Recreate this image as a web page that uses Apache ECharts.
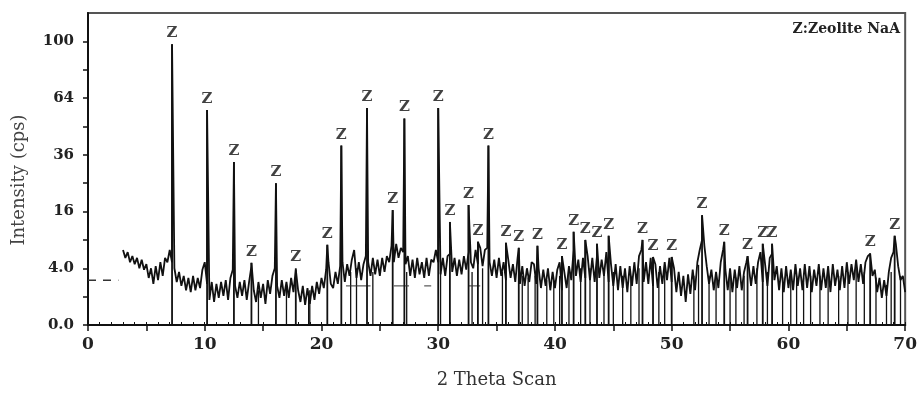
<!DOCTYPE html>
<html><head><meta charset="utf-8">
<script src="https://cdn.jsdelivr.net/npm/echarts@6/dist/echarts.min.js"></script>
<style>html,body{margin:0;padding:0;background:#fff}#c{width:920px;height:394px}</style>
</head><body><div id="c"></div>
<script>
// measured background profile (cps), sampled every 0.2 deg 2-theta from 3.0 (noisy band)
const bgStart = 3.0, bgStep = 0.2;
const bgIntensity = [
 7.0,5.6,6.6,4.9,5.9,4.6,5.6,4.0,5.3,3.8,
 4.6,2.75,4.0,2.1,4.3,2.5,4.9,3.0,5.6,4.9,
 7.0,4.9,4.0,2.3,3.5,1.9,3.0,1.5,2.75,1.35,
 3.0,1.5,2.75,1.7,3.8,4.9,2.1,0.78,2.3,0.66,
 2.1,0.91,2.3,1.05,2.5,0.78,2.75,3.8,1.9,0.91,
 2.3,1.05,2.5,0.78,2.3,4.3,1.5,0.66,2.3,0.91,
 2.1,0.55,2.5,1.2,3.0,4.0,1.9,0.91,2.5,1.05,
 2.3,0.91,2.75,1.35,3.8,1.5,0.66,1.9,0.5,1.7,
 0.55,1.9,0.78,2.3,1.2,2.75,1.7,3.8,4.9,2.1,
 1.7,3.5,2.1,4.3,4.9,2.3,4.6,3.0,5.3,7.0,
 2.75,4.9,2.5,4.6,5.9,4.9,3.0,5.6,3.2,5.3,
 3.0,5.6,3.5,5.9,4.9,7.8,4.9,8.2,5.6,7.4,
 6.6,4.6,5.9,3.0,5.3,2.75,5.6,3.2,4.9,2.75,
 5.6,3.0,5.3,4.9,7.0,4.9,3.2,5.6,3.0,5.9,
 6.3,3.5,5.6,3.0,5.3,3.2,5.9,3.8,6.6,4.9,
 4.0,7.0,4.6,7.4,4.3,7.0,7.4,4.9,3.0,5.3,
 2.75,5.6,3.0,4.9,2.5,5.3,2.75,4.6,2.3,5.6,
 2.1,4.3,1.9,4.0,2.3,4.9,4.6,2.1,4.0,1.7,
 3.8,1.9,4.0,1.5,3.5,1.7,3.8,4.9,1.5,3.5,
 1.7,4.3,2.5,7.0,3.0,5.3,2.3,5.6,2.75,5.9,
 2.5,5.6,2.3,5.9,2.75,5.3,3.0,6.6,2.3,4.6,
 1.9,4.6,1.5,4.3,1.7,4.0,1.35,4.3,1.9,4.9,
 2.1,5.9,7.0,2.3,4.9,2.1,5.6,1.9,4.6,1.7,
 4.3,2.1,4.9,2.5,5.6,2.3,4.0,1.35,3.5,1.05,
 3.0,0.66,3.2,1.2,3.8,1.5,4.9,7.0,9.0,7.8,
 4.3,2.1,3.8,1.5,3.5,1.7,4.9,7.0,3.8,1.5,
 4.0,1.35,3.8,1.7,4.3,1.5,3.5,4.9,5.9,1.9,
 4.3,2.1,4.9,6.6,2.3,4.6,1.9,5.6,6.3,2.5,
 4.3,1.5,4.0,1.35,4.3,1.7,3.8,1.5,4.6,1.9,
 4.0,1.5,4.6,1.7,4.3,1.35,3.8,1.9,4.6,1.5,
 4.0,1.7,4.3,1.35,4.6,1.9,3.8,1.5,4.3,1.7,
 4.9,2.1,4.6,2.5,5.3,2.3,4.6,2.1,4.9,5.9,
 6.3,3.0,3.8,1.35,2.75,0.91,2.5,1.05,3.5,5.6,
 6.6,8.2,4.3,2.5,3.0,1.35
];
// Zeolite NaA reflections (labelled "Z")
const peakPos = [7.2,10.2,12.5,14.0,16.1,17.8,20.5,21.7,23.9,26.1,27.1,30.0,31.0,32.6,33.4,34.3,35.8,36.9,38.5,40.6,41.6,42.6,43.6,44.6,47.5,48.4,50.0,52.6,54.5,56.5,57.8,58.6,67.0,69.1];
const peakInt = [98,57.5,33,4.8,25,4.0,8.0,40,58.5,16.4,53,58.5,13.2,17.9,8.6,40,8.4,7.4,7.8,5.9,10.8,9.0,8.2,9.9,9.0,5.75,5.75,15.0,8.6,5.9,8.2,8.2,6.4,9.9];
// unlabelled reference lines
const stickPos = [14.6,17.0,18.9,19.0,22.5,23.0,24.4,27.3,30.2,32.9,33.8,35.5,37.2,37.7,38.3,39.3,39.9,40.4,41.2,42.2,43.0,44.2,45.0,45.8,46.5,47.2,48.9,49.4,51.9,52.3,53.2,53.8,55.0,55.5,56.2,57.3,58.2,59.5,60.2,60.7,61.3,61.9,62.7,63.4,64.3,65.1,65.8,66.5,67.5,68.4,68.8,69.6];
const stickInt = [1.5,1.7,1.2,1.5,3.5,4.0,3.5,3.5,3.5,3.5,4.0,3.5,3.0,2.8,3.0,2.5,2.5,3.0,3.5,4.0,4.0,4.0,3.5,3.0,3.0,4.0,3.5,4.0,3.0,4.5,3.0,3.0,3.0,2.8,3.0,4.0,3.5,2.8,3.0,3.0,2.8,3.0,3.0,3.2,3.0,3.5,4.0,3.5,2.8,2.0,3.5,3.0];
// short horizontal reference segments [from, to] at level segLevel
const segFrom = [22.1,26.2,28.8,32.6];
const segTo = [24.2,27.5,29.4,33.6];
const segLevel = 1.9;
// dashed background marker at left
const dashX = [0, 2.6];
const dashI = [2.5, 2.5];
// axis ticks / labels (intensity on square-root scale)
const yTickIntensity = [0,1,4,9,16,25,36,49,64,81,100];
const yLabelIntensity = [0,4,16,36,64,100];
const yLabelText = ['0.0','4.0','16','36','64','100'];
const xMajorTicks = [0,5,10,15,20,25,30,35,40,45,50,55,60,65,70];

const sq = Math.sqrt;
const profile = bgIntensity.map((v,i)=>[+(bgStart+i*bgStep).toFixed(2), sq(v)])
  .concat(peakPos.map((p,i)=>[p, sq(peakInt[i])]))
  .sort((a,b)=>a[0]-b[0]);

const SERIF = '"DejaVu Serif", "Liberation Serif", serif';
function stickRender(width){
  return function(params, api){
    const x = api.value(0), y = api.value(1);
    const p0 = api.coord([x,0]), p1 = api.coord([x,y]);
    return {type:'line', shape:{x1:p0[0],y1:p0[1],x2:p1[0],y2:p1[1]}, style:{stroke:'#111', lineWidth:width}};
  };
}

const chart = echarts.init(document.getElementById('c'));
chart.setOption({
  animation:false,
  backgroundColor:'#fff',
  grid:{left:88,right:12,top:13,bottom:69,show:true,borderColor:'#555',borderWidth:2},
  xAxis:[{
    type:'value',min:0,max:70,interval:10,position:'bottom',
    axisLine:{lineStyle:{color:'#111',width:2}},
    axisTick:{length:6,customValues:xMajorTicks,lineStyle:{color:'#111',width:1.5}},
    axisLabel:{fontFamily:SERIF,fontWeight:'bold',fontSize:17,color:'#222',margin:11},
    splitLine:{show:false},
    name:'2 Theta Scan',nameLocation:'middle',nameGap:46,
    nameTextStyle:{fontFamily:SERIF,fontSize:18,color:'#333'}
  },{
    type:'value',min:0,max:70,interval:1,position:'bottom',
    axisLine:{show:false},axisLabel:{show:false},
    axisTick:{inside:true,length:3,lineStyle:{color:'#111',width:1}},
    splitLine:{show:false}
  }],
  yAxis:{
    type:'value',min:0,max:11,
    axisLine:{lineStyle:{color:'#111',width:2}},
    axisTick:{length:5,customValues:yTickIntensity.map(sq),lineStyle:{color:'#111',width:1.5}},
    axisLabel:{customValues:yLabelIntensity.map(sq),fontFamily:SERIF,fontWeight:'bold',fontSize:15,color:'#222',margin:14,
      formatter:function(v){const i=yLabelIntensity.findIndex(t=>Math.abs(sq(t)-v)<1e-6);return i>=0?yLabelText[i]:'';}},
    splitLine:{show:false},
    name:'Intensity (cps)',nameLocation:'middle',nameGap:60,
    nameTextStyle:{fontFamily:SERIF,fontSize:18,color:'#444',padding:[0,22,0,0]}
  },
  graphic:[{type:'text',right:20,top:22,style:{text:'Z:Zeolite NaA',font:'bold 14px "DejaVu Serif"',fill:'#222'}}],
  series:[
    {type:'line',data:profile,showSymbol:false,lineStyle:{color:'#111',width:1.8},z:3},
    {type:'custom',data:stickPos.map((p,i)=>[p,sq(stickInt[i])]),encode:{x:0,y:1},renderItem:stickRender(1.3),z:2},
    {type:'custom',data:peakPos.map((p,i)=>[p,sq(peakInt[i])]),encode:{x:0,y:1},renderItem:stickRender(1.8),z:4},
    {type:'custom',data:segFrom.map((f,i)=>[f,segTo[i],sq(segLevel)]),encode:{x:[0,1],y:2},z:2,
      renderItem:function(params,api){const a=api.coord([api.value(0),api.value(2)]),b=api.coord([api.value(1),api.value(2)]);
        return {type:'line',shape:{x1:a[0],y1:a[1],x2:b[0],y2:b[1]},style:{stroke:'#333',lineWidth:1}};}},
    {type:'line',data:dashX.map((x,i)=>[x,sq(dashI[i])]),showSymbol:false,lineStyle:{color:'#333',width:1.5,type:[8,7]}},
    {type:'scatter',data:peakPos.map((p,i)=>[p,sq(peakInt[i])]),symbolSize:1,itemStyle:{color:'transparent'},z:5,
      label:{show:true,formatter:'Z',position:'top',distance:3,fontFamily:SERIF,fontWeight:'bold',fontSize:15,color:'#111'}}
  ]
});
</script></body></html>
